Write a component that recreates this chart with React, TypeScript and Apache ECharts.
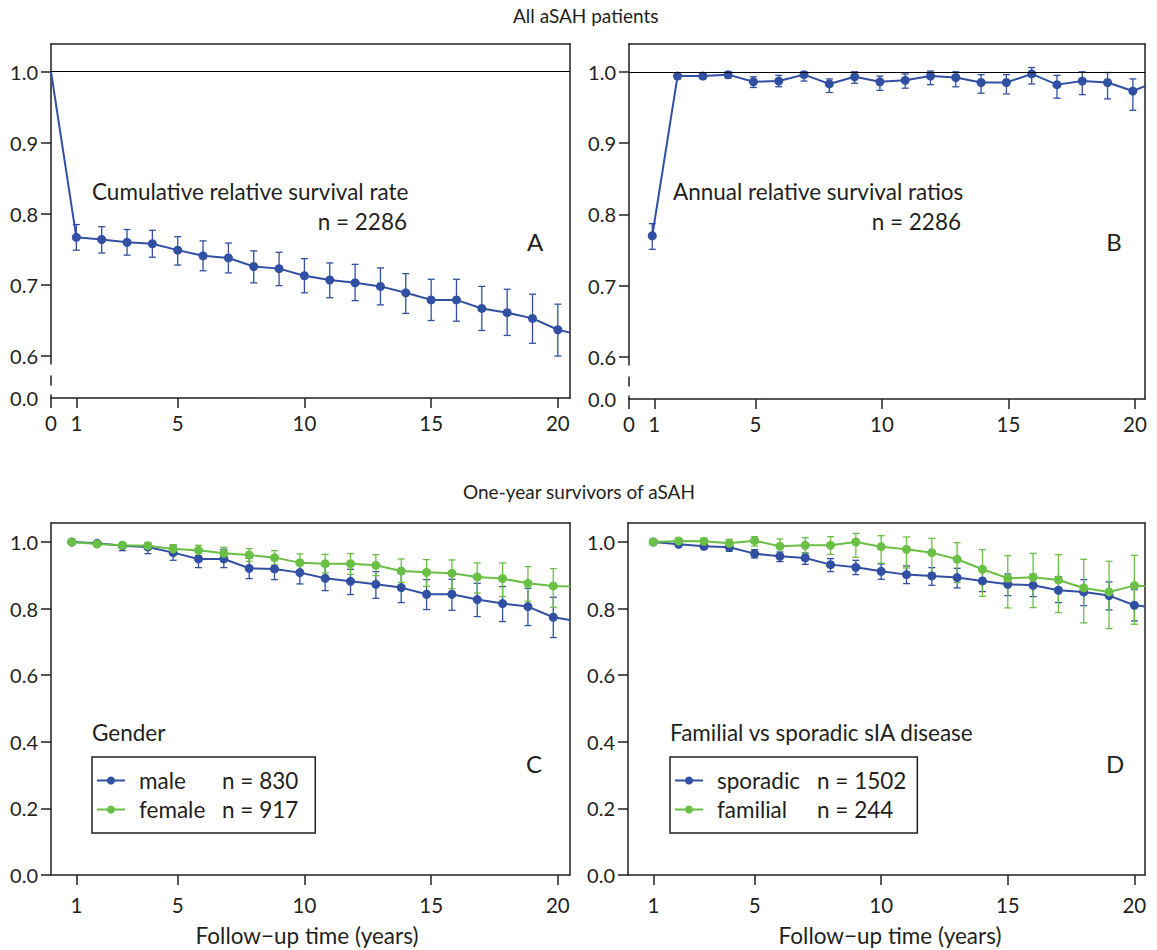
import React, { useEffect, useRef } from 'react';
import * as echarts from 'echarts';

const TEXT = '#231f20';
const BLUE = '#3150a3';
const GREEN = '#6abf45';
const FONT = 'Lato, "Open Sans", sans-serif';

// ---------- Panel A: cumulative relative survival rate ----------
const yearsA = [0, 1, 2, 3, 4, 5, 6, 7, 8, 9, 10, 11, 12, 13, 14, 15, 16, 17, 18, 19, 20];
const cumRel = [1.0, 0.767, 0.764, 0.760, 0.758, 0.749, 0.741, 0.738, 0.726, 0.723, 0.713, 0.707, 0.703, 0.698, 0.689, 0.679, 0.679, 0.667, 0.661, 0.653, 0.637];
const cumLo = [null, 0.749, 0.745, 0.742, 0.739, 0.728, 0.720, 0.717, 0.703, 0.699, 0.689, 0.682, 0.678, 0.672, 0.660, 0.650, 0.649, 0.636, 0.629, 0.618, 0.600];
const cumHi = [null, 0.785, 0.782, 0.778, 0.777, 0.768, 0.762, 0.759, 0.748, 0.746, 0.737, 0.731, 0.729, 0.724, 0.716, 0.708, 0.708, 0.698, 0.694, 0.687, 0.673];
const cumTail = 0.633; // value where the line meets the right frame

// ---------- Panel B: annual relative survival ratios ----------
const yearsB = [0.92, 1.92, 2.92, 3.92, 4.92, 5.92, 6.92, 7.92, 8.92, 9.92, 10.92, 11.92, 12.92, 13.92, 14.92, 15.92, 16.92, 17.92, 18.92, 19.92];
const annRel = [0.770, 0.994, 0.994, 0.996, 0.986, 0.987, 0.996, 0.983, 0.993, 0.986, 0.988, 0.994, 0.992, 0.985, 0.985, 0.997, 0.982, 0.987, 0.985, 0.973];
const annLo = [0.751, 0.990, 0.990, 0.991, 0.978, 0.979, 0.987, 0.971, 0.984, 0.974, 0.977, 0.982, 0.979, 0.970, 0.969, 0.983, 0.963, 0.968, 0.962, 0.946];
const annHi = [0.787, 0.998, 0.998, 1.000, 0.993, 0.995, 1.000, 0.990, 1.000, 0.994, 0.997, 1.001, 1.000, 0.996, 0.996, 1.006, 0.995, 1.000, 0.999, 0.990];
const annTail = 0.980;

// ---------- Panel C: gender ----------
const yearsC = [0.82, 1.82, 2.82, 3.82, 4.82, 5.82, 6.82, 7.82, 8.82, 9.82, 10.82, 11.82, 12.82, 13.82, 14.82, 15.82, 16.82, 17.82, 18.82, 19.82];
const male = [1.0, 0.996, 0.989, 0.985, 0.968, 0.949, 0.949, 0.921, 0.919, 0.908, 0.891, 0.882, 0.873, 0.863, 0.843, 0.843, 0.827, 0.815, 0.806, 0.774];
const maleLo = [null, 0.991, 0.974, 0.965, 0.945, 0.923, 0.923, 0.890, 0.887, 0.874, 0.854, 0.842, 0.831, 0.818, 0.797, 0.795, 0.776, 0.761, 0.749, 0.713];
const maleHi = [null, 1.001, 0.996, 0.996, 0.989, 0.978, 0.978, 0.951, 0.952, 0.943, 0.927, 0.918, 0.911, 0.905, 0.887, 0.888, 0.876, 0.866, 0.861, 0.834];
const maleTail = 0.766;
const female = [1.0, 0.994, 0.990, 0.989, 0.979, 0.975, 0.966, 0.961, 0.953, 0.938, 0.935, 0.935, 0.930, 0.913, 0.909, 0.906, 0.895, 0.890, 0.876, 0.868];
const femaleLo = [null, 0.988, 0.981, 0.978, 0.965, 0.959, 0.947, 0.942, 0.931, 0.910, 0.907, 0.903, 0.899, 0.879, 0.867, 0.860, 0.847, 0.836, 0.822, 0.804];
const femaleHi = [null, 1.000, 0.999, 0.998, 0.992, 0.990, 0.984, 0.980, 0.974, 0.964, 0.963, 0.965, 0.962, 0.949, 0.947, 0.946, 0.937, 0.937, 0.926, 0.920];
const femaleTail = 0.866;

// ---------- Panel D: familial vs sporadic ----------
const yearsD = [1, 2, 3, 4, 5, 6, 7, 8, 9, 10, 11, 12, 13, 14, 15, 16, 17, 18, 19, 20];
const sporadic = [1.0, 0.993, 0.987, 0.984, 0.965, 0.957, 0.952, 0.932, 0.924, 0.912, 0.902, 0.898, 0.893, 0.883, 0.873, 0.870, 0.855, 0.850, 0.839, 0.810];
const sporadicLo = [null, 0.987, 0.979, 0.972, 0.952, 0.941, 0.933, 0.911, 0.902, 0.888, 0.875, 0.870, 0.862, 0.851, 0.839, 0.836, 0.818, 0.809, 0.796, 0.763];
const sporadicHi = [null, 0.999, 0.994, 0.992, 0.977, 0.970, 0.967, 0.950, 0.945, 0.934, 0.928, 0.923, 0.921, 0.915, 0.904, 0.903, 0.896, 0.887, 0.880, 0.857];
const sporadicTail = 0.806;
const familial = [1.0, 1.003, 1.002, 0.996, 1.004, 0.987, 0.990, 0.990, 1.0, 0.986, 0.978, 0.968, 0.948, 0.918, 0.891, 0.894, 0.886, 0.862, 0.850, 0.869];
const familialLo = [null, 0.989, 0.990, 0.981, 0.988, 0.963, 0.965, 0.963, 0.954, 0.936, 0.922, 0.907, 0.878, 0.837, 0.802, 0.803, 0.788, 0.757, 0.740, 0.753];
const familialHi = [null, 1.011, 1.011, 1.008, 1.016, 1.009, 1.013, 1.016, 1.026, 1.019, 1.015, 1.011, 0.998, 0.977, 0.959, 0.966, 0.962, 0.948, 0.942, 0.960];
const familialTail = 0.867;

// ---------- tick labels ----------
const xTicksTop = [0, 1, 5, 10, 15, 20];
const xTicksBottom = [1, 5, 10, 15, 20];
const yMinTop = 0.541;
const yMaxTop = 1.039;
const yLabelsTop = [yMinTop, 0.6, 0.7, 0.8, 0.9, 1.0];
const yTicksTop = [0.6, 0.7, 0.8, 0.9, 1.0];
const yLabelsBottom = [0, 0.2, 0.4, 0.6, 0.8, 1.0];
const yMaxBottom = 1.057;

const X_MAX = [20.48, 20.4, 20.48, 20.42];

const grids = [
  { left: 51, top: 44, width: 519, height: 354 },
  { left: 629, top: 44, width: 516, height: 355 },
  { left: 51, top: 523, width: 519, height: 352 },
  { left: 628, top: 523, width: 517, height: 352 },
];

const axisLineStyle = { color: TEXT, width: 1.5 };

function buildAxes() {
  const xAxis: any[] = [];
  const yAxis: any[] = [];
  grids.forEach((g, i) => {
    const top = i < 2;
    const xt = top ? xTicksTop : xTicksBottom;
    xAxis.push({
      type: 'value', gridIndex: i, min: 0, max: X_MAX[i], position: 'bottom',
      axisLine: { show: true, onZero: false, lineStyle: axisLineStyle },
      axisTick: { show: true, customValues: xt, length: 10, lineStyle: axisLineStyle },
      axisLabel: { customValues: xt, color: TEXT, fontSize: 20.5, fontFamily: FONT, margin: top ? 14 : 19 },
      splitLine: { show: false },
    });
    xAxis.push({
      type: 'value', gridIndex: i, min: 0, max: X_MAX[i], position: 'top',
      axisLine: { show: true, onZero: false, lineStyle: axisLineStyle },
      axisTick: { show: false }, axisLabel: { show: false }, splitLine: { show: false },
    });
    yAxis.push({
      type: 'value', gridIndex: i, position: 'left',
      min: top ? yMinTop : 0, max: top ? yMaxTop : yMaxBottom,
      axisLine: {
        show: true, onZero: false,
        lineStyle: top ? { ...axisLineStyle, type: [3, 10, 9, 12, 400] } : axisLineStyle,
      },
      axisTick: { show: true, customValues: top ? yTicksTop : yLabelsBottom, length: 10, lineStyle: axisLineStyle },
      axisLabel: {
        customValues: top ? yLabelsTop : yLabelsBottom,
        formatter: (v: number) => (top && v < 0.58 ? '0.0' : v.toFixed(1)),
        color: TEXT, fontSize: 20, fontFamily: FONT, margin: 13,
      },
      splitLine: { show: false },
    });
    yAxis.push({
      type: 'value', gridIndex: i, position: 'right',
      min: top ? yMinTop : 0, max: top ? yMaxTop : yMaxBottom,
      axisLine: { show: true, onZero: false, lineStyle: axisLineStyle },
      axisTick: { show: false }, axisLabel: { show: false }, splitLine: { show: false },
    });
  });
  return { xAxis, yAxis };
}

function lineSeries(name: string, idx: number, xs: number[], ys: number[], tail: number, color: string, noFirstSymbol: boolean, refLine: boolean) {
  const data: any[] = xs.map((x, i) =>
    noFirstSymbol && i === 0 ? { value: [x, ys[i]], symbol: 'none' } : [x, ys[i]]
  );
  data.push({ value: [X_MAX[idx], tail], symbol: 'none' });
  const s: any = {
    type: 'line', name, xAxisIndex: idx * 2, yAxisIndex: idx * 2, data,
    symbol: 'circle', symbolSize: 9, showSymbol: true, clip: true, z: 4,
    itemStyle: { color }, lineStyle: { color, width: 2 },
  };
  if (refLine) {
    s.markLine = {
      silent: true, symbol: 'none', label: { show: false },
      lineStyle: { color: '#000', width: 1, type: 'solid' },
      data: [{ yAxis: 1 }],
    };
  }
  return s;
}

function errSeries(name: string, idx: number, xs: number[], lo: (number | null)[], hi: (number | null)[], color: string) {
  const data: any[] = [];
  xs.forEach((x, i) => {
    if (lo[i] != null && hi[i] != null) data.push([x, lo[i], hi[i]]);
  });
  return {
    type: 'custom', name, xAxisIndex: idx * 2, yAxisIndex: idx * 2, z: 3,
    data, encode: { x: 0, y: [1, 2] },
    renderItem: (_p: any, api: any) => {
      const x = api.value(0);
      const a = api.coord([x, api.value(2)]);
      const b = api.coord([x, api.value(1)]);
      const w = 3.5;
      const st = { stroke: color, lineWidth: 1.3 };
      return {
        type: 'group',
        children: [
          { type: 'line', shape: { x1: a[0], y1: a[1], x2: b[0], y2: b[1] }, style: st },
          { type: 'line', shape: { x1: a[0] - w, y1: a[1], x2: a[0] + w, y2: a[1] }, style: st },
          { type: 'line', shape: { x1: b[0] - w, y1: b[1], x2: b[0] + w, y2: b[1] }, style: st },
        ],
      };
    },
  };
}

function txt(text: string, x: number, y: number, align: string, size = 22.5) {
  return {
    type: 'text', x, y, silent: true,
    style: {
      text, fill: TEXT, font: `${size}px ${FONT}`,
      align, verticalAlign: 'middle', textAlign: align, textVerticalAlign: 'middle',
    },
  };
}

function legendFor(left: number, names: string[], counts: string[], colWidth: number, padRight: number) {
  return {
    left, top: 757, orient: 'vertical',
    data: names,
    borderColor: TEXT, borderWidth: 1.5, borderRadius: 0,
    padding: [11, padRight, 11, 4], itemGap: 4, itemWidth: 28, itemHeight: 10,
    formatter: (n: string) => `{n|${n}}{c|${counts[names.indexOf(n)]}}`,
    textStyle: {
      color: TEXT, fontSize: 22.5, fontFamily: FONT, lineHeight: 25,
      rich: {
        n: { width: colWidth, fontSize: 22.5, fontFamily: FONT, color: TEXT, padding: [0, 0, 0, 9], lineHeight: 25 },
        c: { fontSize: 22.5, fontFamily: FONT, color: TEXT, lineHeight: 25 },
      },
    },
  };
}

export default function App() {
  const ref = useRef<HTMLDivElement>(null);
  useEffect(() => {
    if (!ref.current) return;
    const chart = echarts.init(ref.current, undefined, { renderer: 'svg' });
    const { xAxis, yAxis } = buildAxes();
    chart.setOption({
      animation: false,
      backgroundColor: '#fff',
      textStyle: { fontFamily: FONT },
      grid: grids.map((g) => ({ ...g, containLabel: false })),
      xAxis, yAxis,
      legend: [
        legendFor(92, ['male', 'female'], ['n = 830', 'n = 917'], 83, 17),
        legendFor(670, ['sporadic', 'familial'], ['n = 1502', 'n = 244'], 100, 11),
      ],
      series: [
        errSeries('cum-err', 0, yearsA, cumLo, cumHi, BLUE),
        lineSeries('cumulative', 0, yearsA, cumRel, cumTail, BLUE, true, true),
        errSeries('ann-err', 1, yearsB, annLo, annHi, BLUE),
        lineSeries('annual', 1, yearsB, annRel, annTail, BLUE, false, true),
        errSeries('male-err', 2, yearsC, maleLo, maleHi, BLUE),
        errSeries('female-err', 2, yearsC, femaleLo, femaleHi, GREEN),
        lineSeries('male', 2, yearsC, male, maleTail, BLUE, false, false),
        lineSeries('female', 2, yearsC, female, femaleTail, GREEN, false, false),
        errSeries('sporadic-err', 3, yearsD, sporadicLo, sporadicHi, BLUE),
        errSeries('familial-err', 3, yearsD, familialLo, familialHi, GREEN),
        lineSeries('sporadic', 3, yearsD, sporadic, sporadicTail, BLUE, false, false),
        lineSeries('familial', 3, yearsD, familial, familialTail, GREEN, false, false),
      ],
      graphic: [
        txt('All aSAH patients', 513, 15, 'left', 19),
        txt('One-year survivors of aSAH', 463, 491, 'left', 19),
        txt('Cumulative relative survival rate', 92, 191, 'left'),
        txt('n = 2286', 407, 221, 'right'),
        txt('A', 535, 241, 'center', 24),
        txt('Annual relative survival ratios', 673, 191, 'left'),
        txt('n = 2286', 961, 221, 'right'),
        txt('B', 1114, 241, 'center', 24),
        txt('Gender', 92, 732, 'left'),
        txt('C', 534, 763, 'center', 24),
        txt('Familial vs sporadic sIA disease', 670, 732, 'left'),
        txt('D', 1115, 763, 'center', 24),
        txt('Follow\u2212up time (years)', 307, 935, 'center'),
        txt('Follow\u2212up time (years)', 890, 935, 'center'),
      ],
    });
    return () => chart.dispose();
  }, []);
  return <div ref={ref} style={{ position: 'fixed', left: 0, top: 0, width: 1157, height: 950 }} />;
}
